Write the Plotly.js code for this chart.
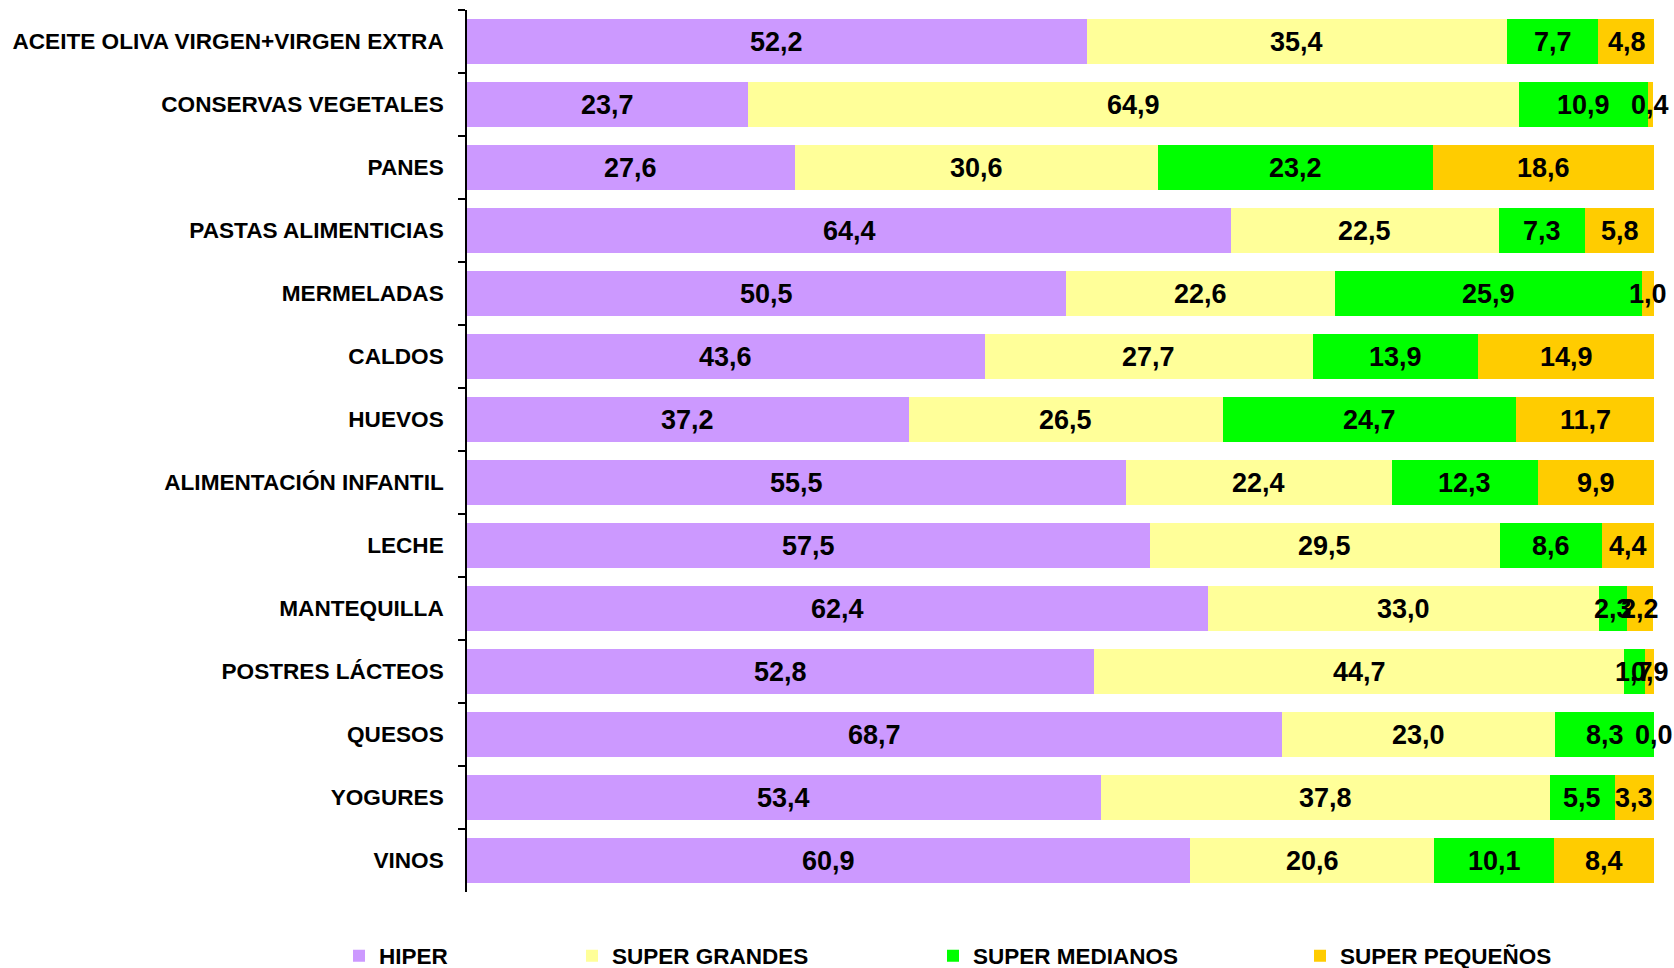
<!DOCTYPE html>
<html>
<head>
<meta charset="utf-8">
<script src="https://cdn.plot.ly/plotly-3.0.1.min.js"></script>
<style>html,body{margin:0;padding:0;background:#fff;}#chart{width:1674px;height:968px;}</style>
</head>
<body>
<div id="chart"></div>
<script>
const categories = [
  "ACEITE OLIVA VIRGEN+VIRGEN EXTRA",
  "CONSERVAS VEGETALES",
  "PANES",
  "PASTAS ALIMENTICIAS",
  "MERMELADAS",
  "CALDOS",
  "HUEVOS",
  "ALIMENTACIÓN INFANTIL",
  "LECHE",
  "MANTEQUILLA",
  "POSTRES LÁCTEOS",
  "QUESOS",
  "YOGURES",
  "VINOS"
];
const hiper          = [52.2, 23.7, 27.6, 64.4, 50.5, 43.6, 37.2, 55.5, 57.5, 62.4, 52.8, 68.7, 53.4, 60.9];
const superGrandes   = [35.4, 64.9, 30.6, 22.5, 22.6, 27.7, 26.5, 22.4, 29.5, 33.0, 44.7, 23.0, 37.8, 20.6];
const superMedianos  = [7.7, 10.9, 23.2, 7.3, 25.9, 13.9, 24.7, 12.3, 8.6, 2.3, 1.7, 8.3, 5.5, 10.1];
const superPequenos  = [4.8, 0.4, 18.6, 5.8, 1.0, 14.9, 11.7, 9.9, 4.4, 2.2, 0.9, 0.0, 3.3, 8.4];
const seriesNames = ["HIPER", "SUPER GRANDES", "SUPER MEDIANOS", "SUPER PEQUEÑOS"];
const seriesColors = ["#CC99FF", "#FFFF99", "#00FF00", "#FFCC00"];

const FONT = "Liberation Sans, Arial, Helvetica, sans-serif";
const allSeries = [hiper, superGrandes, superMedianos, superPequenos];
const legendIds = ["legend", "legend2", "legend3", "legend4"];
const fmt = v => v.toFixed(1).replace('.', ',');

const traces = [];
const annotations = [];
const cumulative = categories.map(() => 0);
allSeries.forEach((vals, i) => {
  traces.push({
    type: 'bar', orientation: 'h',
    y: categories, x: vals,
    name: seriesNames[i],
    marker: {color: seriesColors[i], line: {width: 0}},
    legend: legendIds[i],
    hoverinfo: 'x+name'
  });
  vals.forEach((v, k) => {
    annotations.push({
      xref: 'x', yref: 'y',
      x: cumulative[k] + v / 2, y: categories[k],
      text: fmt(v), showarrow: false,
      xanchor: 'center', yanchor: 'middle', yshift: -0.5,
      font: {family: FONT, size: 27, color: '#000', weight: 'bold'}
    });
    cumulative[k] += v;
  });
});

const W = 1674, H = 968;
const plotL = 467, plotR = 1654;
const legendSquareX = [353, 586, 947, 1314];
const legendLayouts = {};
legendIds.forEach((id, i) => {
  legendLayouts[id] = {
    orientation: 'h',
    xref: 'container', yref: 'container',
    x: (legendSquareX[i] - 14) / W,
    xanchor: 'left',
    y: 1 - 956 / H, yanchor: 'middle',
    font: {family: FONT, size: 22.5, color: '#000', weight: 'bold'},
    bgcolor: 'rgba(0,0,0,0)',
    itemwidth: 30
  };
});

const layout = Object.assign({
  width: W, height: H,
  margin: {l: plotL, r: W - plotR, t: 10, b: 76, autoexpand: false},
  paper_bgcolor: '#fff', plot_bgcolor: '#fff',
  barmode: 'stack', bargap: 0.28,
  showlegend: true,
  annotations: annotations,
  xaxis: {range: [0, 100], visible: false, fixedrange: true},
  yaxis: {
    type: 'category', range: [categories.length - 0.5, -0.5], autorange: false,
    showline: true, linecolor: '#000', linewidth: 1.5,
    ticks: 'outside', tickson: 'boundaries', ticklen: 7, tickwidth: 1.5, tickcolor: '#000',
    showgrid: false, zeroline: false,
    tickfont: {family: FONT, size: 22.6, color: '#000', weight: 'bold'},
    ticklabelstandoff: 17
  }
}, legendLayouts);

Plotly.newPlot('chart', traces, layout, {displayModeBar: false, responsive: false});
</script>
</body>
</html>
